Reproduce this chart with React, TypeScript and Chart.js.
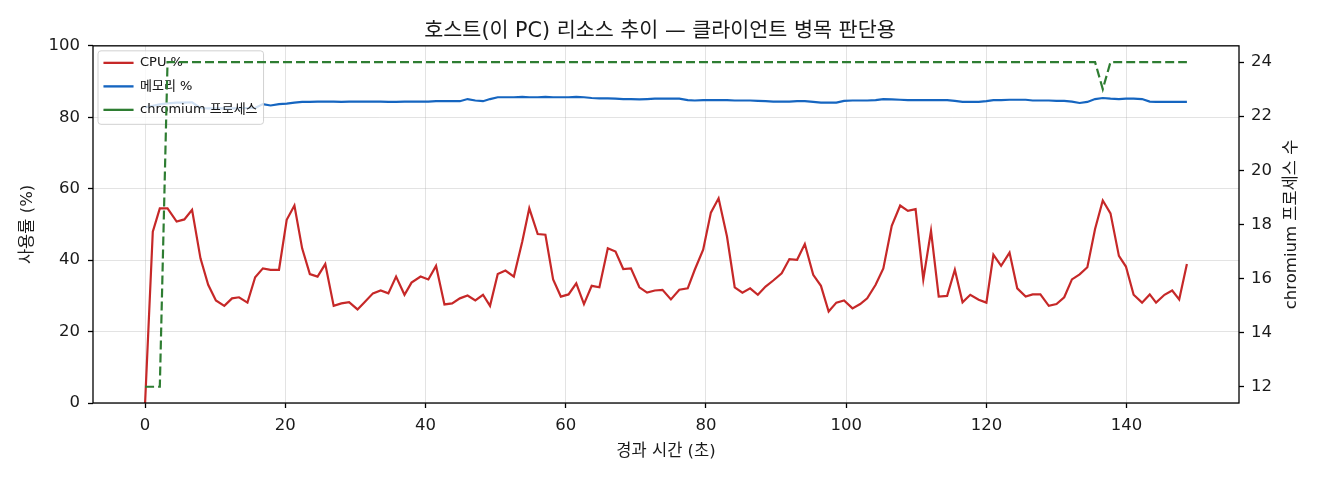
import React, { useEffect, useRef } from "react";
import { Chart, registerables } from "chart.js";

Chart.register(...registerables);

const TITLE = "호스트(이 PC) 리소스 추이 — 클라이언트 병목 판단용";
const X_LABEL = "경과 시간 (초)";
const Y_LEFT_LABEL = "사용률 (%)";
const Y_RIGHT_LABEL = "chromium 프로세스 수";
const SERIES_NAMES = ["CPU %", "메모리 %", "chromium 프로세스"];

const elapsedSec = [
  0.0, 1.1, 2.1, 3.2, 4.5, 5.6, 6.7, 7.9, 9.0, 10.1,
  11.3, 12.4, 13.4, 14.6, 15.7, 16.8, 17.9, 19.1, 20.2, 21.3,
  22.4, 23.5, 24.6, 25.7, 26.9, 28.0, 29.1, 30.3, 31.3, 32.5,
  33.6, 34.7, 35.8, 37.0, 38.0, 39.3, 40.4, 41.5, 42.7, 43.8,
  44.9, 46.0, 47.1, 48.2, 49.2, 50.3, 51.4, 52.6, 53.8, 54.8,
  56.0, 57.1, 58.2, 59.3, 60.4, 61.5, 62.6, 63.7, 64.8, 66.0,
  67.1, 68.2, 69.3, 70.5, 71.6, 72.7, 73.8, 75.0, 76.2, 77.4,
  78.4, 79.6, 80.7, 81.8, 83.0, 84.1, 85.2, 86.3, 87.4, 88.5,
  89.6, 90.8, 91.9, 93.0, 94.1, 95.3, 96.4, 97.5, 98.6, 99.7,
  100.9, 102.0, 103.0, 104.2, 105.3, 106.5, 107.7, 108.8, 109.9, 111.0,
  112.1, 113.2, 114.4, 115.5, 116.6, 117.7, 118.9, 120.0, 121.0, 122.1,
  123.3, 124.4, 125.6, 126.6, 127.7, 128.9, 130.0, 131.1, 132.2, 133.3,
  134.4, 135.5, 136.6, 137.7, 138.9, 139.9, 141.0, 142.2, 143.3, 144.2,
  145.4, 146.5, 147.5, 148.6,
];

const cpuPct = [
  0, 48.0, 54.5, 54.5, 50.8, 51.4, 54.1, 40.5, 33.1, 28.7,
  27.2, 29.3, 29.6, 28.1, 35.2, 37.7, 37.3, 37.3, 51.3, 55.3,
  43.3, 36.1, 35.4, 38.9, 27.2, 27.9, 28.2, 26.2, 28.2, 30.7,
  31.5, 30.7, 35.4, 30.3, 33.7, 35.4, 34.6, 38.4, 27.6, 27.9,
  29.3, 30.1, 28.7, 30.3, 27.2, 36.1, 37.1, 35.4, 45.2, 54.5,
  47.3, 47.1, 34.6, 29.8, 30.4, 33.5, 27.7, 32.8, 32.4, 43.3,
  42.4, 37.5, 37.7, 32.4, 30.9, 31.5, 31.7, 29.0, 31.7, 32.1,
  37.3, 42.9, 53.3, 57.3, 46.6, 32.4, 30.9, 32.1, 30.3, 32.6,
  34.3, 36.3, 40.3, 40.1, 44.5, 35.9, 32.8, 25.6, 28.1, 28.7,
  26.5, 27.7, 29.3, 33.1, 37.7, 49.6, 55.3, 53.8, 54.3, 34.6,
  48.2, 29.8, 30.0, 37.3, 28.2, 30.3, 28.9, 28.1, 41.5, 38.4,
  42.1, 32.1, 29.8, 30.4, 30.4, 27.2, 27.7, 29.6, 34.6, 36.0,
  38.0, 48.7, 56.7, 53.1, 41.2, 38.2, 30.3, 28.1, 30.4, 28.1,
  30.3, 31.5, 29.0, 38.9,
];

const memPct = [
  82.8, 83.2, 83.6, 83.9, 84.1, 84.1, 84.2, 82.6, 82.5, 82.5,
  82.5, 82.5, 82.5, 82.6, 82.6, 83.7, 83.3, 83.7, 83.8, 84.1,
  84.3, 84.3, 84.4, 84.4, 84.4, 84.3, 84.4, 84.4, 84.4, 84.4,
  84.4, 84.3, 84.3, 84.4, 84.4, 84.4, 84.4, 84.5, 84.5, 84.5,
  84.5, 85.1, 84.7, 84.5, 85.1, 85.6, 85.6, 85.6, 85.7, 85.6,
  85.6, 85.7, 85.6, 85.6, 85.6, 85.7, 85.6, 85.4, 85.3, 85.3,
  85.2, 85.1, 85.1, 85.0, 85.1, 85.2, 85.2, 85.2, 85.2, 84.8,
  84.7, 84.8, 84.8, 84.8, 84.8, 84.7, 84.7, 84.7, 84.6, 84.5,
  84.4, 84.4, 84.4, 84.5, 84.5, 84.3, 84.1, 84.1, 84.1, 84.6,
  84.7, 84.7, 84.7, 84.8, 85.1, 85.0, 84.9, 84.8, 84.8, 84.8,
  84.8, 84.8, 84.8, 84.6, 84.3, 84.3, 84.3, 84.5, 84.8, 84.8,
  84.9, 84.9, 84.9, 84.7, 84.7, 84.7, 84.6, 84.6, 84.4, 84.0,
  84.3, 85.1, 85.4, 85.2, 85.1, 85.2, 85.2, 85.1, 84.4, 84.3,
  84.3, 84.3, 84.3, 84.3,
];

const chromiumProcs = [
  12, 12, 12, 24, 24, 24, 24, 24, 24, 24,
  24, 24, 24, 24, 24, 24, 24, 24, 24, 24,
  24, 24, 24, 24, 24, 24, 24, 24, 24, 24,
  24, 24, 24, 24, 24, 24, 24, 24, 24, 24,
  24, 24, 24, 24, 24, 24, 24, 24, 24, 24,
  24, 24, 24, 24, 24, 24, 24, 24, 24, 24,
  24, 24, 24, 24, 24, 24, 24, 24, 24, 24,
  24, 24, 24, 24, 24, 24, 24, 24, 24, 24,
  24, 24, 24, 24, 24, 24, 24, 24, 24, 24,
  24, 24, 24, 24, 24, 24, 24, 24, 24, 24,
  24, 24, 24, 24, 24, 24, 24, 24, 24, 24,
  24, 24, 24, 24, 24, 24, 24, 24, 24, 24,
  24, 24, 23, 24, 24, 24, 24, 24, 24, 24,
  24, 24, 24, 24,
];

const xTicks = [0, 20, 40, 60, 80, 100, 120, 140];
const leftTicks = [0, 20, 40, 60, 80, 100];
const rightTicks = [12, 14, 16, 18, 20, 22, 24];

const FONT = "'DejaVu Sans', 'Noto Sans CJK KR', sans-serif";
const TEXT = "#1a1a1a";
const GRID = "rgba(176,176,176,0.35)";
const LEGEND_PAD = 10.5;

function pad5(lo: number, hi: number): [number, number] {
  const m = (hi - lo) * 0.05;
  return [lo - m, hi + m];
}

const overlayPlugin = {
  id: "mplOverlay",
  afterLayout(chart: any) {
    const lg = chart.legend;
    const ca = chart.chartArea;
    if (lg && ca) {
      lg.left = ca.left;
      lg.top = ca.top;
      lg.right = ca.right;
      lg.bottom = ca.bottom;
    }
  },
  afterDatasetDraw(chart: any, args: any) {
    if (args.index !== 1) return;
    const lg = chart.legend;
    if (!lg || !lg.legendHitBoxes || !lg.legendHitBoxes.length) return;
    const hb = lg.legendHitBoxes;
    const ca = chart.chartArea;
    const left = ca.left + 5;
    const top = ca.top + 5;
    const maxW = Math.max(...hb.map((h: any) => h.width));
    const right = ca.left + LEGEND_PAD + maxW + 6;
    let h = LEGEND_PAD;
    hb.forEach((b: any, i: number) => {
      h += b.height + (i < hb.length - 1 ? LEGEND_PAD : 0);
    });
    const bottom = ca.top + h + 8;
    const ctx = chart.ctx;
    ctx.save();
    ctx.beginPath();
    if ((ctx as any).roundRect) {
      (ctx as any).roundRect(left, top, right - left, bottom - top, 3);
    } else {
      ctx.rect(left, top, right - left, bottom - top);
    }
    ctx.fillStyle = "rgba(255,255,255,0.8)";
    ctx.fill();
    ctx.lineWidth = 1;
    ctx.strokeStyle = "rgba(204,204,204,0.9)";
    ctx.stroke();
    ctx.restore();
    lg.draw();
  },
  afterDraw(chart: any) {
    const ctx = chart.ctx;
    const { left, top, right, bottom } = chart.chartArea;
    ctx.save();
    ctx.strokeStyle = "#000";
    ctx.lineWidth = 1.3;
    ctx.strokeRect(left, top, right - left, bottom - top);
    ctx.translate(chart.width - 28, (top + bottom) / 2);
    ctx.rotate(-Math.PI / 2);
    ctx.fillStyle = TEXT;
    ctx.font = `16.5px ${FONT}`;
    ctx.textAlign = "center";
    ctx.textBaseline = "middle";
    ctx.fillText(Y_RIGHT_LABEL, 0, 0);
    ctx.restore();
  },
};

export default function App() {
  const ref = useRef<HTMLCanvasElement>(null);

  useEffect(() => {
    if (!ref.current) return;
    const [xMin, xMax] = pad5(Math.min(...elapsedSec), Math.max(...elapsedSec));
    const [rMin, rMax] = pad5(Math.min(...chromiumProcs), Math.max(...chromiumProcs));
    const toPts = (ys: number[]) => elapsedSec.map((t, i) => ({ x: t, y: ys[i] }));

    const tickFont = { family: FONT, size: 16.5 };
    const titleFont = { family: FONT, size: 16.5 };

    const chart = new Chart(ref.current, {
      type: "line",
      data: {
        datasets: [
          {
            label: SERIES_NAMES[0],
            data: toPts(cpuPct),
            borderColor: "#c62828",
            backgroundColor: "#c62828",
            borderWidth: 2.2,
            pointRadius: 0,
            tension: 0,
            yAxisID: "y",
            order: 2,
          },
          {
            label: SERIES_NAMES[1],
            data: toPts(memPct),
            borderColor: "#1565c0",
            backgroundColor: "#1565c0",
            borderWidth: 2.2,
            pointRadius: 0,
            tension: 0,
            yAxisID: "y",
            order: 1,
          },
          {
            label: SERIES_NAMES[2],
            data: toPts(chromiumProcs),
            borderColor: "#2e7d32",
            backgroundColor: "#2e7d32",
            borderWidth: 2.2,
            borderDash: [9, 4],
            pointRadius: 0,
            tension: 0,
            yAxisID: "y2",
            order: 0,
          },
        ],
      },
      options: {
        animation: false,
        responsive: true,
        maintainAspectRatio: false,
        layout: { padding: 0 },
        events: [],
        scales: {
          x: {
            type: "linear",
            min: xMin,
            max: xMax,
            afterBuildTicks: (s: any) => {
              s.ticks = xTicks.map((v) => ({ value: v }));
            },
            afterFit: (s: any) => {
              s.height = 77;
            },
            ticks: {
              font: tickFont,
              color: TEXT,
              padding: 8,
              maxRotation: 0,
              autoSkip: false,
              callback: (v: any) => String(v),
            },
            grid: {
              color: GRID,
              lineWidth: 1,
              tickColor: "#000",
              tickLength: 5,
              tickWidth: 1.3,
            },
            border: { display: false },
            title: {
              display: true,
              text: X_LABEL,
              font: titleFont,
              color: TEXT,
              padding: { top: 0, bottom: 18 },
            },
          },
          y: {
            type: "linear",
            position: "left",
            min: leftTicks[0],
            max: leftTicks[leftTicks.length - 1],
            afterBuildTicks: (s: any) => {
              s.ticks = leftTicks.map((v) => ({ value: v }));
            },
            afterFit: (s: any) => {
              s.width = 93;
            },
            ticks: {
              font: tickFont,
              color: TEXT,
              padding: 8,
              callback: (v: any) => String(v),
            },
            grid: {
              color: GRID,
              lineWidth: 1,
              tickColor: "#000",
              tickLength: 5,
              tickWidth: 1.3,
            },
            border: { display: false },
            title: {
              display: true,
              text: Y_LEFT_LABEL,
              font: titleFont,
              color: TEXT,
              padding: { top: 18, bottom: 0 },
            },
          },
          y2: {
            type: "linear",
            position: "right",
            min: rMin,
            max: rMax,
            afterBuildTicks: (s: any) => {
              s.ticks = rightTicks.map((v) => ({ value: v }));
            },
            afterFit: (s: any) => {
              s.width = 81;
            },
            ticks: {
              font: tickFont,
              color: TEXT,
              padding: 7,
              callback: (v: any) => String(v),
            },
            grid: {
              drawOnChartArea: false,
              tickColor: "#000",
              tickLength: 5,
              tickWidth: 1.3,
            },
            border: { display: false },
            title: { display: false, text: Y_RIGHT_LABEL },
          },
        },
        plugins: {
          title: {
            display: true,
            text: TITLE,
            color: TEXT,
            font: { family: FONT, size: 20.7, weight: "normal" },
            padding: { top: 19, bottom: 2 },
          },
          legend: {
            position: "chartArea",
            align: "start",
            labels: {
              usePointStyle: true,
              pointStyle: "line",
              pointStyleWidth: 30,
              padding: LEGEND_PAD,
              color: TEXT,
              font: { family: FONT, size: 13 },
              sort: (a: any, b: any) => a.datasetIndex - b.datasetIndex,
            },
          },
          tooltip: { enabled: false },
        },
      } as any,
      plugins: [overlayPlugin],
    });
    return () => chart.destroy();
  }, []);

  return (
    <div
      style={{
        position: "absolute",
        left: 0,
        top: 0,
        width: 1320,
        height: 480,
        background: "#fff",
      }}
    >
      <canvas ref={ref} />
    </div>
  );
}
